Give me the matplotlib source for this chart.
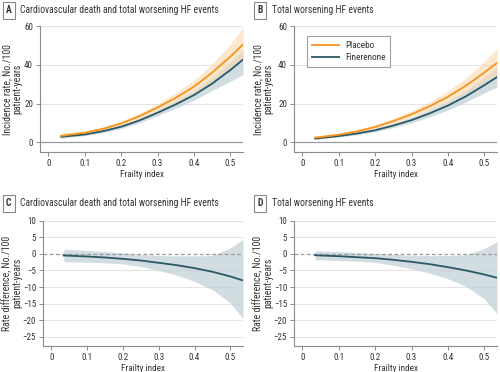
import matplotlib
matplotlib.use("Agg")
import matplotlib.pyplot as plt
from matplotlib import font_manager

_fonts = font_manager.fontManager.ttflist
_names = {f.name for f in _fonts}
if 'Roboto Condensed' in _names:
    plt.rcParams['font.family'] = ['Roboto Condensed', 'DejaVu Sans']
elif 'Liberation Sans Narrow' in _names:
    plt.rcParams['font.family'] = ['Liberation Sans Narrow', 'DejaVu Sans']
elif any(f.name == 'DejaVu Sans' and 'Condensed' in f.fname for f in _fonts):
    plt.rcParams['font.family'] = ['DejaVu Sans']
    plt.rcParams['font.stretch'] = 'condensed'
else:
    plt.rcParams['font.family'] = ['Liberation Sans', 'DejaVu Sans']

frailty = [0.035, 0.05, 0.1, 0.15, 0.2, 0.25, 0.3, 0.35, 0.4, 0.45, 0.5, 0.535]

# Panel A: cardiovascular death and total worsening HF events
a_placebo = [3.4, 3.8, 5.0, 7.0, 9.8, 13.5, 18.0, 23.0, 28.7, 36.0, 44.2, 50.5]
a_placebo_hi = [4.6, 4.9, 6.0, 8.0, 11.0, 15.0, 20.0, 25.6, 32.0, 40.5, 50.5, 59.5]
a_placebo_lo = [2.5, 2.9, 4.1, 6.0, 8.7, 12.1, 16.1, 20.6, 25.6, 31.8, 38.5, 43.0]
a_fine = [2.9, 3.2, 4.1, 5.8, 8.1, 11.3, 15.3, 19.6, 24.4, 30.3, 37.3, 42.7]
a_fine_hi = [3.7, 4.0, 4.8, 6.6, 9.0, 12.5, 16.8, 21.5, 26.8, 33.5, 41.5, 48.0]
a_fine_lo = [2.2, 2.5, 3.5, 5.0, 7.2, 10.1, 13.8, 17.6, 21.8, 26.8, 31.5, 35.0]

# Panel B: total worsening HF events
b_placebo = [2.5, 2.8, 4.0, 5.7, 8.0, 11.0, 14.5, 18.7, 23.5, 29.3, 36.0, 41.0]
b_placebo_hi = [3.3, 3.6, 4.8, 6.6, 9.1, 12.4, 16.3, 21.0, 26.4, 33.2, 41.5, 48.5]
b_placebo_lo = [1.8, 2.1, 3.3, 4.9, 7.0, 9.7, 12.9, 16.6, 20.8, 25.8, 31.5, 35.0]
b_fine = [2.0, 2.3, 3.3, 4.6, 6.3, 8.7, 11.5, 15.0, 19.0, 23.8, 29.5, 33.7]
b_fine_hi = [2.6, 2.9, 3.9, 5.3, 7.2, 9.8, 13.0, 16.9, 21.4, 26.9, 33.5, 39.0]
b_fine_lo = [1.5, 1.8, 2.8, 4.0, 5.5, 7.6, 10.1, 13.2, 16.7, 20.9, 25.5, 28.5]

# Panel C: rate difference, CV death and total worsening HF events
c_diff = [-0.5, -0.55, -0.8, -1.1, -1.5, -2.0, -2.7, -3.4, -4.3, -5.4, -6.8, -8.0]
c_hi = [1.4, 1.3, 1.0, 0.7, 0.3, -0.2, -0.5, -0.6, -0.6, -0.5, 1.8, 4.3]
c_lo = [-2.4, -2.4, -2.5, -2.7, -3.0, -3.8, -5.0, -6.4, -8.3, -10.8, -14.8, -19.5]

# Panel D: rate difference, total worsening HF events
d_diff = [-0.4, -0.5, -0.7, -1.0, -1.3, -1.8, -2.4, -3.1, -4.0, -5.0, -6.2, -7.2]
d_hi = [0.9, 0.85, 0.7, 0.4, 0.1, -0.2, -0.4, -0.5, -0.5, -0.3, 1.6, 3.7]
d_lo = [-1.8, -1.8, -2.0, -2.2, -2.6, -3.4, -4.5, -5.8, -7.5, -9.8, -13.5, -18.0]

xticks = [0, 0.1, 0.2, 0.3, 0.4, 0.5]
xticklabels = ['0', '0.1', '0.2', '0.3', '0.4', '0.5']
top_yticks = [0, 20, 40, 60]
bot_yticks = [10, 5, 0, -5, -10, -15, -20, -25]

titles = ['Cardiovascular death and total worsening HF events', 'Total worsening HF events',
          'Cardiovascular death and total worsening HF events', 'Total worsening HF events']
letters = ['A', 'B', 'C', 'D']

ORANGE = '#f7941d'
TEAL = '#2b5866'
ORANGE_BAND = '#fbd9ae'
TEAL_BAND = '#c3d2d8'
GRID = '#e4e4e4'
SPINE = '#8c8c8c'
TXT = '#333333'

fig = plt.figure(figsize=(5, 3.72), dpi=100)
_r = fig.canvas.get_renderer()


def size_for(s, target_px, lo, hi):
    t = fig.text(0, 0, s, fontsize=10)
    w = t.get_window_extent(_r).width
    t.remove()
    return min(max(10 * target_px / w, lo), hi)


FS_TITLE = size_for(titles[0], 197, 6.9, 7.6)
FS_XLAB = size_for('Frailty index', 39, 6.6, 7.2)
FS_YLAB = size_for('Incidence rate, No./100', 91, 6.6, 7.2)
FS_TICK = size_for('0.5', 10.5, 6.5, 7.0)
FS_LEG = size_for('Finerenone', 40, 6.6, 7.2)

positions = [
    [0.080, 0.591, 0.406, 0.339],
    [0.588, 0.591, 0.406, 0.339],
    [0.086, 0.070, 0.400, 0.337],
    [0.588, 0.070, 0.406, 0.337],
]
ylabel_x = [-0.089, -0.103, -0.105, -0.103]

axes = [fig.add_axes(p) for p in positions]


def style(ax, yticks, ylim, ylabel, lx):
    ax.set_xlim(-0.023, 0.535)
    ax.set_ylim(*ylim)
    ax.set_xticks(xticks)
    ax.set_xticklabels(xticklabels)
    ax.set_yticks(yticks)
    for s in ['top', 'right']:
        ax.spines[s].set_visible(False)
    for s in ['left', 'bottom']:
        ax.spines[s].set_color(SPINE)
        ax.spines[s].set_linewidth(0.8)
    ax.tick_params(axis='both', direction='out', length=3, width=0.7, color=SPINE,
                   labelsize=FS_TICK, labelcolor=TXT, pad=2)
    ax.set_xlabel('Frailty index', fontsize=FS_XLAB, color=TXT, labelpad=1.5)
    ax.set_ylabel(ylabel, fontsize=FS_YLAB, color=TXT, linespacing=0.95)
    ax.yaxis.set_label_coords(lx, 0.5)


# Top panels
for ax, lx, pl, plh, pll, fi, fih, fil in [
    (axes[0], ylabel_x[0], a_placebo, a_placebo_hi, a_placebo_lo, a_fine, a_fine_hi, a_fine_lo),
    (axes[1], ylabel_x[1], b_placebo, b_placebo_hi, b_placebo_lo, b_fine, b_fine_hi, b_fine_lo),
]:
    style(ax, top_yticks, (-5, 60), 'Incidence rate, No./100\npatient-years', lx)
    for yv in [20, 40, 60]:
        ax.axhline(yv, color=GRID, lw=0.8, zorder=0)
    ax.axhline(0, color='#9a9a9a', lw=0.9, zorder=1)
    ax.fill_between(frailty, fil, fih, color=TEAL_BAND, alpha=0.75, lw=0, zorder=2)
    ax.fill_between(frailty, pll, plh, color=ORANGE_BAND, alpha=0.6, lw=0, zorder=3)
    ax.plot(frailty, fi, color=TEAL, lw=1.3, zorder=4, label='Finerenone')
    ax.plot(frailty, pl, color=ORANGE, lw=1.3, zorder=5, label='Placebo')

h, l = axes[1].get_legend_handles_labels()
leg = axes[1].legend([h[1], h[0]], [l[1], l[0]], loc='upper left', bbox_to_anchor=(0.04, 0.955),
                     fontsize=FS_LEG, frameon=True, fancybox=False, handlelength=3.0,
                     borderpad=0.55, labelspacing=0.3, handletextpad=0.6)
leg.get_frame().set_edgecolor('#888888')
leg.get_frame().set_linewidth(0.8)
for t in leg.get_texts():
    t.set_color(TXT)

# Bottom panels
for ax, lx, dd, dh, dl in [(axes[2], ylabel_x[2], c_diff, c_hi, c_lo),
                           (axes[3], ylabel_x[3], d_diff, d_hi, d_lo)]:
    style(ax, bot_yticks, (-27.7, 10), 'Rate difference, No./100\npatient-years', lx)
    for yv in bot_yticks:
        if yv != 0:
            ax.axhline(yv, color=GRID, lw=0.8, zorder=0)
    ax.fill_between(frailty, dl, dh, color=TEAL_BAND, alpha=0.75, lw=0, zorder=2)
    ax.axhline(0, color='#9a9a9a', lw=0.9, ls=(0, (3, 2)), zorder=3)
    ax.plot(frailty, dd, color=TEAL, lw=1.3, zorder=4)

# Panel letters and titles
title_pos = [(0.012, 0.972), (0.514, 0.972), (0.012, 0.453), (0.514, 0.453)]
for (x, y), letter, title in zip(title_pos, letters, titles):
    fig.text(x, y, letter, fontsize=FS_TITLE, fontweight='bold', color=TXT, va='center', ha='left',
             bbox=dict(boxstyle='square,pad=0.35', fc='white', ec='#888888', lw=0.8))
    fig.text(x + 0.029, y, title, fontsize=FS_TITLE, color=TXT, va='center', ha='left')

fig.savefig('out.png', dpi=100)
